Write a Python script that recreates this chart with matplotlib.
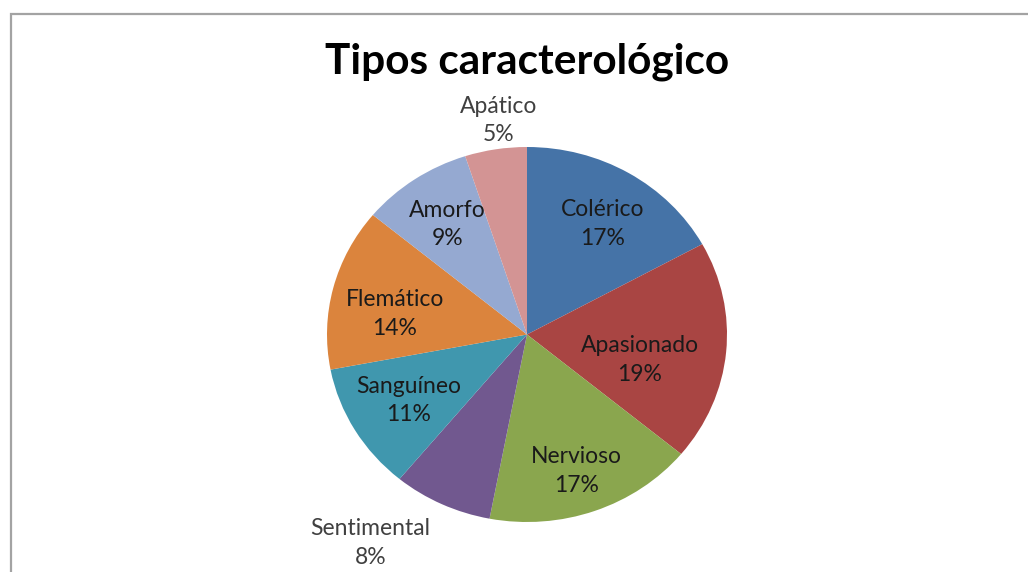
import matplotlib.pyplot as plt
from matplotlib.patches import Rectangle
import numpy as np

plt.rcParams['font.family'] = ['Lato', 'DejaVu Sans']

categorias = ['Colérico', 'Apasionado', 'Nervioso', 'Sentimental',
              'Sanguíneo', 'Flemático', 'Amorfo', 'Apático']
porcentajes = [17, 19, 17, 8, 11, 14, 9, 5]
colores = ['#4573A7', '#A94543', '#8AA64E', '#71588F',
           '#4097AE', '#DB843D', '#95A9D1', '#D39494']
# posición de cada etiqueta: distancia radial y giro respecto al centro de la porción
dist_etiqueta = [0.70, 0.58, 0.77, 1.36, 0.69, 0.67, 0.71, 1.15]
giro_etiqueta = [-2, -8, -1, -10, 0, 5, 0, -2]

fig = plt.figure(figsize=(10.28, 5.72), dpi=100)
fig.patches.append(Rectangle((11 / 1028, -0.2), 1.2, 1.2 - 14 / 572,
                             transform=fig.transFigure, fill=False,
                             edgecolor='#A3A3A3', linewidth=1.6))

ax = fig.add_axes([327 / 1028, 50 / 572, 400 / 1028, 375 / 572])
wedges, _ = ax.pie(porcentajes, colors=colores, startangle=90,
                   counterclock=False, wedgeprops={'linewidth': 0})
ax.set_aspect('auto')
ax.set_xlim(-1, 1)
ax.set_ylim(-1, 1)

for w, nombre, val, d, g in zip(wedges, categorias, porcentajes,
                                dist_etiqueta, giro_etiqueta):
    ang = np.deg2rad((w.theta1 + w.theta2) / 2 + g)
    color = '#1A1A1A' if d < 1 else '#404040'
    ax.text(d * np.cos(ang), d * np.sin(ang), f'{nombre}\n{val}%',
            ha='center', va='center', fontsize=16.5, color=color,
            linespacing=1.45)

fig.text(527 / 1028, 1 - 62 / 572, 'Tipos caracterológico', ha='center',
         va='center', fontsize=30.5, fontweight='bold', color='black')

plt.savefig('out.png', dpi=100)
